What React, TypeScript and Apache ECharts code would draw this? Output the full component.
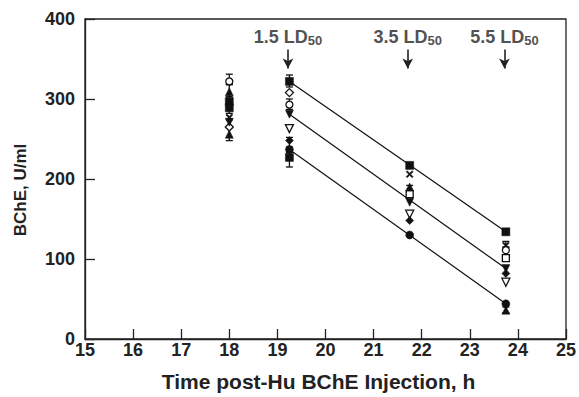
import React, { useEffect, useRef } from "react";
import * as echarts from "echarts";

// Sampling times (h)
const TIMES = [18, 19.25, 21.75, 23.75];

// BChE activity (U/ml) per animal, null = not shown
const FILLED_SQUARE = [297, 322, 217, 134];
const FILLED_SQUARE_B = [289, 227, null, null];
const CROSS = [277, null, 206, 117];
const OPEN_DIAMOND = [265, 308, null, null];
const OPEN_CIRCLE = [322, 293, null, 111];
const OPEN_SQUARE = [null, null, 181, 101];
const FILLED_TRI_DOWN = [271, 281, 171, 88];
const OPEN_TRI_DOWN = [null, 263, 156, 71];
const FILLED_DIAMOND = [null, 248, 148, 82];
const FILLED_CIRCLE = [null, 237, 130, 44];
const FILLED_TRI_UP = [309, null, 190, 36];
const FILLED_TRI_UP_B = [256, null, null, null];

// Error bars: [time, low, high]
const ERROR_BARS = [
  [18, 318, 331],
  [18, 300, 318],
  [18, 282, 303],
  [18, 248, 264],
  [19.25, 315, 330],
  [19.25, 287, 300],
  [19.25, 240, 252],
  [19.25, 215, 233],
  [21.75, 185, 192],
  [23.75, 115, 122],
  [23.75, 33, 40],
];

// Regression lines
const FIT_TOP = [[19.25, 322], [23.75, 134]];
const FIT_MID = [[19.25, 281], [23.75, 88]];
const FIT_BOT = [[19.25, 237], [23.75, 44]];

// Dose annotations
const DOSE_LABELS = ["1.5", "3.5", "5.5"];
const DOSE_TIMES = [19.22, 21.71, 23.72];
const LABEL_Y = 378;
const ARROW_TOP = 362;
const ARROW_BOTTOM = 338;

const FONT = "'Liberation Sans', Arial, Helvetica, sans-serif";

const CROSS_PATH =
  "path://M0,1.5L1.5,0L5,3.5L8.5,0L10,1.5L6.5,5L10,8.5L8.5,10L5,6.5L1.5,10L0,8.5L3.5,5Z";

function pts(vals: (number | null)[]) {
  const out: number[][] = [];
  vals.forEach((v, i) => {
    if (v !== null) out.push([TIMES[i], v]);
  });
  return out;
}

function scatter(
  name: string,
  vals: (number | null)[],
  symbol: string,
  size: number,
  filled: boolean,
  rotate = 0
) {
  return {
    name,
    type: "scatter",
    data: pts(vals),
    symbol,
    symbolSize: size,
    symbolRotate: rotate,
    z: 5,
    itemStyle: {
      color: filled ? "#111" : "#fff",
      borderColor: "#111",
      borderWidth: filled ? 0.5 : 1.3,
      opacity: 1,
    },
    emphasis: { disabled: true },
  };
}

function fit(name: string, d: number[][]) {
  return {
    name,
    type: "line",
    data: d,
    showSymbol: false,
    symbol: "none",
    z: 3,
    lineStyle: { color: "#111", width: 1.2 },
    emphasis: { disabled: true },
  };
}

export default function App() {
  const ref = useRef<HTMLDivElement>(null);

  useEffect(() => {
    if (!ref.current) return;
    const chart = echarts.init(ref.current, undefined, { renderer: "svg" });

    const annotData = DOSE_TIMES.map((t, i) => ({
      value: [t, LABEL_Y],
      label: {
        show: true,
        formatter: `{b|${DOSE_LABELS[i]} LD}{s|50}`,
      },
    }));

    const tickLabel = {
      fontFamily: FONT,
      fontWeight: "bold",
      fontSize: 18,
      color: "#222",
    };

    const option: any = {
      animation: false,
      backgroundColor: "#fff",
      textStyle: { fontFamily: FONT },
      grid: {
        left: 85,
        right: 11,
        top: 19,
        bottom: 56,
        show: true,
        borderColor: "#222",
        borderWidth: 1.3,
        containLabel: false,
      },
      xAxis: {
        type: "value",
        min: 15,
        max: 25,
        interval: 1,
        name: "Time post-Hu BChE Injection, h",
        nameLocation: "middle",
        nameGap: 32,
        nameTextStyle: {
          fontFamily: FONT,
          fontWeight: "bold",
          fontSize: 21,
          color: "#222",
          padding: [0, 14, 0, 0],
        },
        axisLine: { show: true, lineStyle: { color: "#222", width: 1.3 } },
        axisTick: { show: true, inside: true, length: 10, lineStyle: { color: "#222", width: 1.3 } },
        axisLabel: { ...tickLabel, margin: 2 },
        splitLine: { show: false },
      },
      yAxis: {
        type: "value",
        min: 0,
        max: 400,
        interval: 100,
        name: "BChE, U/ml",
        nameLocation: "middle",
        nameGap: 56,
        nameRotate: 90,
        nameTextStyle: {
          fontFamily: FONT,
          fontWeight: "bold",
          fontSize: 17,
          color: "#222",
          padding: [0, 22, 0, 0],
        },
        axisLine: { show: true, lineStyle: { color: "#222", width: 1.3 } },
        axisTick: { show: true, inside: true, length: 10, lineStyle: { color: "#222", width: 1.3 } },
        axisLabel: { ...tickLabel, margin: 10 },
        splitLine: { show: false },
      },
      series: [
        {
          name: "errors",
          type: "custom",
          data: ERROR_BARS,
          encode: { x: 0, y: [1, 2] },
          z: 4,
          renderItem: (params: any, api: any) => {
            const x = api.value(0);
            const lo = api.coord([x, api.value(1)]);
            const hi = api.coord([x, api.value(2)]);
            const w = 3.5;
            const st = { stroke: "#111", lineWidth: 1.3 };
            return {
              type: "group",
              children: [
                { type: "line", shape: { x1: lo[0], y1: lo[1], x2: hi[0], y2: hi[1] }, style: st },
                { type: "line", shape: { x1: lo[0] - w, y1: lo[1], x2: lo[0] + w, y2: lo[1] }, style: st },
                { type: "line", shape: { x1: hi[0] - w, y1: hi[1], x2: hi[0] + w, y2: hi[1] }, style: st },
              ],
            };
          },
        },
        fit("fitTop", FIT_TOP),
        fit("fitMid", FIT_MID),
        fit("fitBot", FIT_BOT),
        scatter("sqA", FILLED_SQUARE, "rect", 8, true),
        scatter("sqB", FILLED_SQUARE_B, "rect", 8, true),
        scatter("cross", CROSS, CROSS_PATH, 7, true),
        scatter("oDiamond", OPEN_DIAMOND, "diamond", 8, false),
        scatter("oCircle", OPEN_CIRCLE, "circle", 7, false),
        scatter("oSquare", OPEN_SQUARE, "rect", 7, false),
        scatter("triDown", FILLED_TRI_DOWN, "triangle", 8, true, 180),
        scatter("oTriDown", OPEN_TRI_DOWN, "triangle", 8, false, 180),
        scatter("diamond", FILLED_DIAMOND, "diamond", 8, true),
        scatter("circle", FILLED_CIRCLE, "circle", 8, true),
        scatter("triUp", FILLED_TRI_UP, "triangle", 8, true),
        scatter("triUpB", FILLED_TRI_UP_B, "triangle", 8, true),
        {
          name: "doses",
          type: "scatter",
          symbol: "circle",
          symbolSize: 0,
          data: annotData,
          z: 6,
          itemStyle: { color: "transparent" },
          label: {
            show: true,
            position: "inside",
            rich: {
              b: {
                fontFamily: FONT,
                fontWeight: "bold",
                fontSize: 18,
                color: "#222",
                lineHeight: 20,
                verticalAlign: "middle",
              },
              s: {
                fontFamily: FONT,
                fontWeight: "bold",
                fontSize: 13,
                color: "#222",
                lineHeight: 20,
                padding: [8, 0, 0, 0],
                verticalAlign: "middle",
              },
            },
          },
          emphasis: { disabled: true },
          markLine: {
            silent: true,
            label: { show: false },
            lineStyle: { color: "#222", width: 1.6, type: "solid" },
            data: DOSE_TIMES.map((t) => [
              { coord: [t, ARROW_TOP], symbol: "none" },
              { coord: [t, ARROW_BOTTOM], symbol: "arrow", symbolSize: [8, 10] },
            ]),
          },
        },
      ],
    };

    chart.setOption(option);
    return () => chart.dispose();
  }, []);

  return (
    <div
      ref={ref}
      style={{ position: "fixed", left: 0, top: 0, width: 579, height: 397, background: "#fff" }}
    />
  );
}
